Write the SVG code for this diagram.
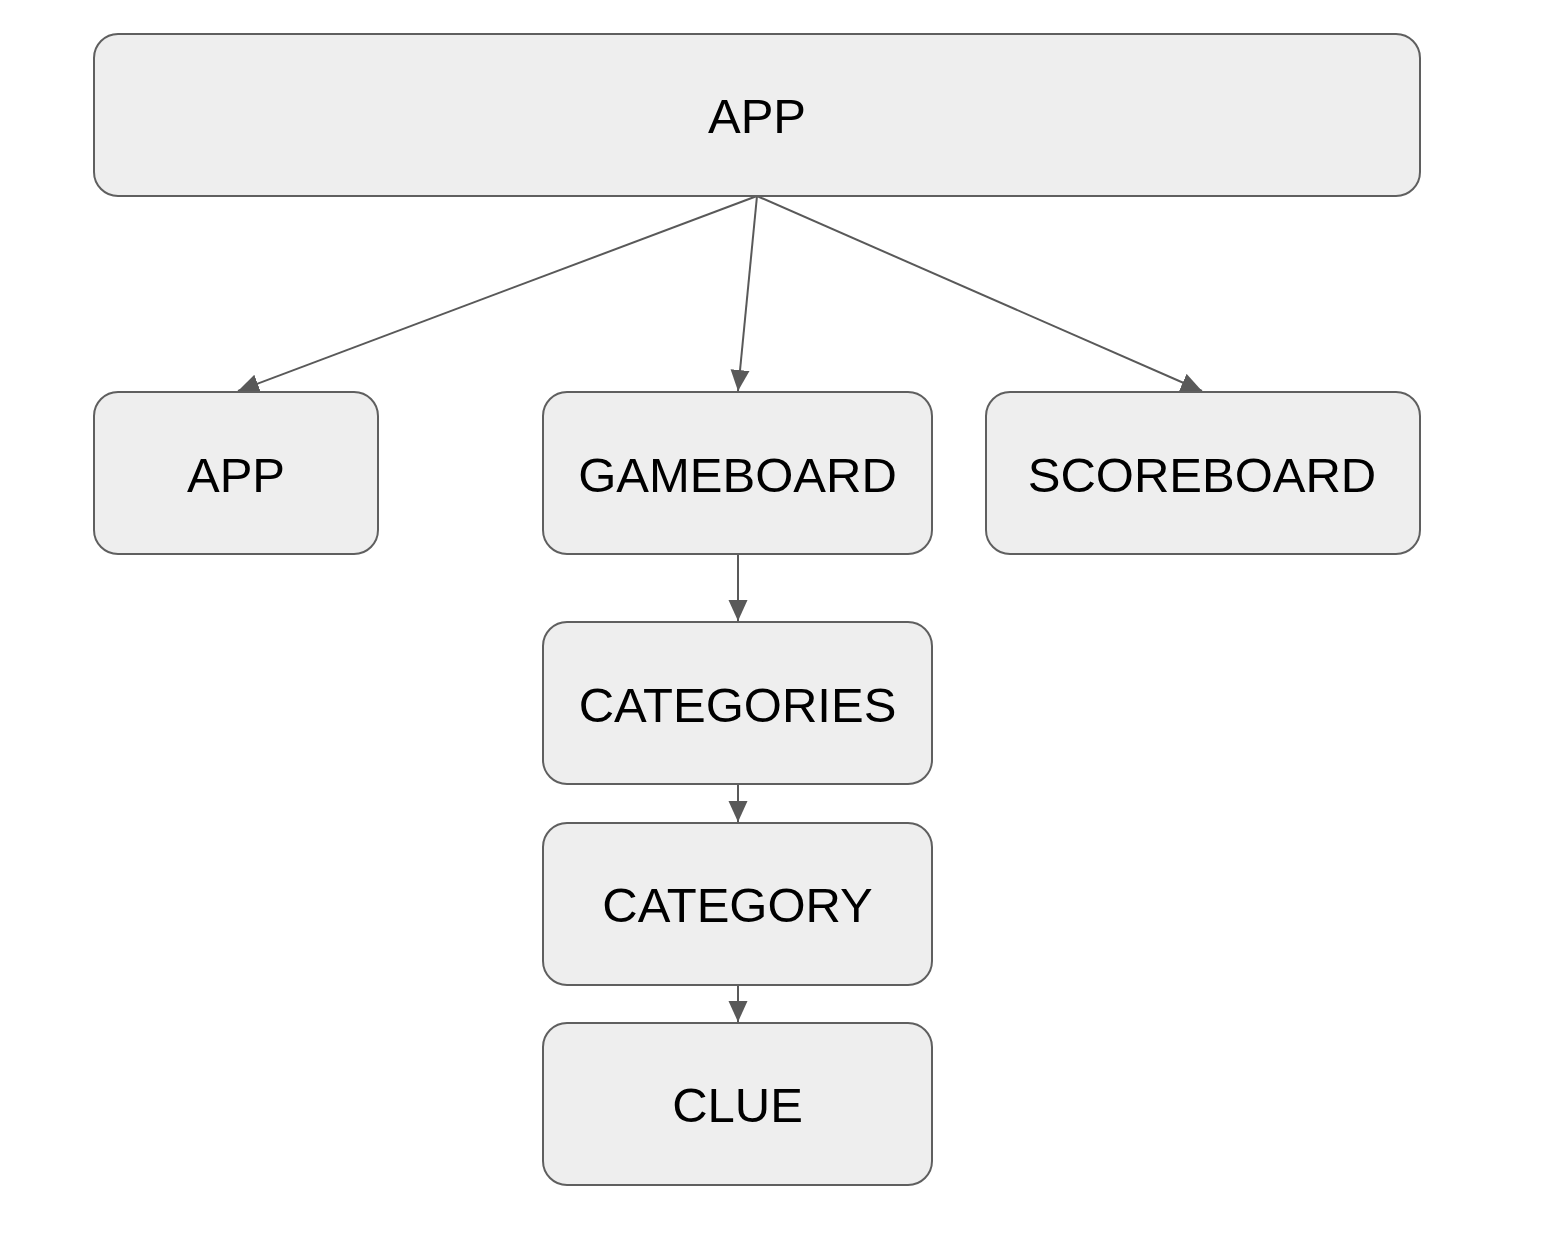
<svg xmlns="http://www.w3.org/2000/svg" width="1560" height="1248" viewBox="0 0 1560 1248">
<style>
.box{fill:#eeeeee;stroke:#5f5f5f;stroke-width:2}
.lbl{font-family:"Liberation Sans",Arial,sans-serif;font-size:49px;fill:#000;text-anchor:middle}
.edge{stroke:#595959;stroke-width:2;fill:none;marker-end:url(#ah)}
</style>
<defs>
<marker id="ah" markerUnits="userSpaceOnUse" markerWidth="21" markerHeight="20" viewBox="0 0 21 19" refX="21" refY="9.5" orient="auto">
<path d="M0,0 L21,9.5 L0,19 Z" fill="#595959"/>
</marker>
</defs>
<rect width="1560" height="1248" fill="#ffffff"/>
<g id="connectors">
<line class="edge" x1="757" y1="196" x2="238" y2="391"/>
<line class="edge" x1="757" y1="196" x2="738" y2="391"/>
<line class="edge" x1="757" y1="196" x2="1202" y2="391"/>
<line class="edge" x1="738" y1="555" x2="738" y2="621"/>
<line class="edge" x1="738" y1="785" x2="738" y2="822"/>
<line class="edge" x1="738" y1="985" x2="738" y2="1022"/>
</g>
<g id="app-top">
<rect class="box" x="94" y="34" width="1326" height="162" rx="24"/>
<text class="lbl" x="757" y="133">APP</text>
</g>
<g id="app-child">
<rect class="box" x="94" y="392" width="284" height="162" rx="24"/>
<text class="lbl" x="236" y="492">APP</text>
</g>
<g id="gameboard">
<rect class="box" x="543" y="392" width="389" height="162" rx="24"/>
<text class="lbl" x="737.5" y="492">GAMEBOARD</text>
</g>
<g id="scoreboard">
<rect class="box" x="986" y="392" width="434" height="162" rx="24"/>
<text class="lbl" x="1202" y="492">SCOREBOARD</text>
</g>
<g id="categories">
<rect class="box" x="543" y="622" width="389" height="162" rx="24"/>
<text class="lbl" x="737.5" y="722">CATEGORIES</text>
</g>
<g id="category">
<rect class="box" x="543" y="823" width="389" height="162" rx="24"/>
<text class="lbl" x="737.5" y="922">CATEGORY</text>
</g>
<g id="clue">
<rect class="box" x="543" y="1023" width="389" height="162" rx="24"/>
<text class="lbl" x="737.5" y="1122">CLUE</text>
</g>
</svg>
